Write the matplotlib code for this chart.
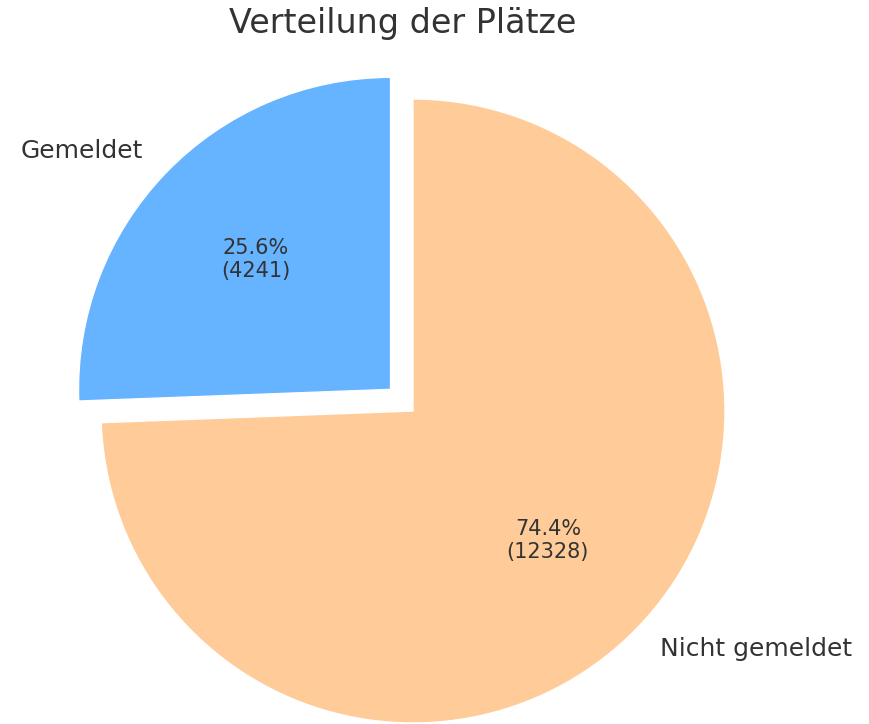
import matplotlib
matplotlib.use("Agg")
import matplotlib.pyplot as plt

labels = ["Gemeldet", "Nicht gemeldet"]
values = [4241, 12328]
colors = ["#66b3ff", "#ffcc99"]
explode = [0.1, 0.0]
title = "Verteilung der Plätze"

W, H = 869, 724
fig = plt.figure(figsize=(W / 100, H / 100), dpi=100)
R = 312.0
cx, cy = 413.0, 724 - 411.0
span = 1.25
ax = fig.add_axes([(cx - span * R) / W, (cy - span * R) / H, 2 * span * R / W, 2 * span * R / H])

total = sum(values)

def fmt(p):
    v = int(round(p * total / 100.0))
    return f"{p:.1f}%\n({v})"

wedges, texts, autotexts = ax.pie(
    values, labels=labels, colors=colors, explode=explode, startangle=90,
    autopct=fmt, wedgeprops=dict(edgecolor="white", linewidth=1),
    textprops=dict(color="#333333", fontsize=18), frame=True)
ax.set_xlim(-span, span)
ax.set_ylim(-span, span)
ax.set_aspect("equal")
ax.axis("off")
for w in wedges:
    w.set_clip_on(False)
for t in autotexts:
    t.set_fontsize(15)
    t.set_color("#333333")

fig.text(403 / W, 1 - 24 / H, title, ha="center", va="center", fontsize=24, color="#333333")

fig.savefig("out.png", dpi=100)
